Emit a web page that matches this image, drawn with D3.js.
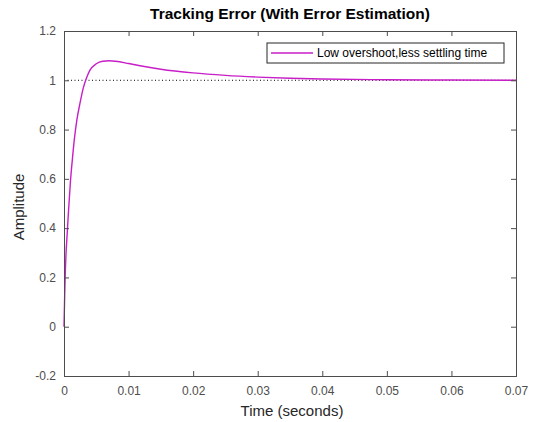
<!DOCTYPE html>
<html><head><meta charset="utf-8">
<script src="https://cdn.jsdelivr.net/npm/d3@7"></script>
<style>body{margin:0;background:#fff}svg{display:block}</style>
</head><body>
<svg id="c" width="543" height="422"></svg>
<script>
const time = [0,0.0001,0.0002,0.0003,0.0005,0.0007,0.001,0.0013,0.0016,0.002,0.0025,0.003,0.0035,0.004,0.005,0.006,0.007,0.008,0.01,0.012,0.015,0.02,0.025,0.03,0.035,0.04,0.05,0.06,0.07];
const amplitude = [0,0.12,0.22,0.29,0.38,0.47,0.59,0.68,0.76,0.84,0.91,0.97,1.01,1.04,1.067,1.077,1.079,1.077,1.068,1.058,1.045,1.03,1.02,1.013,1.008,1.005,1.002,1.001,1.0];
const xTicks = [0,0.01,0.02,0.03,0.04,0.05,0.06,0.07];
const yTicks = [-0.2,0,0.2,0.4,0.6,0.8,1,1.2];
const seriesName = "Low overshoot,less settling time";
const titleText = "Tracking Error (With Error Estimation)";
const xLabel = "Time (seconds)";
const yLabel = "Amplitude";

const svg = d3.select("#c");
const L=64,R=516,T=31,B=376;
const x = d3.scaleLinear().domain([0,0.07]).range([L,R]);
const y = d3.scaleLinear().domain([-0.2,1.2]).range([B,T]);
const font = "'Liberation Sans', Arial, sans-serif";
const axisCol = "#4d4d4d";

// reference line
svg.append("line").attr("x1",L).attr("x2",R).attr("y1",y(1)).attr("y2",y(1))
  .attr("stroke","#000").attr("stroke-width",1).attr("stroke-dasharray","1,2.5");

// curve
const data = time.map((t,i)=>[t,amplitude[i]]);
svg.append("path").datum(data)
  .attr("fill","none").attr("stroke","#c81ec8").attr("stroke-width",1.4)
  .attr("d", d3.line().x(d=>x(d[0])).y(d=>y(d[1])).curve(d3.curveMonotoneX));

// axes
const tl = 5;
const gB = svg.append("g").attr("transform",`translate(0,${B})`)
  .call(d3.axisBottom(x).tickValues(xTicks).tickSize(-tl).tickPadding(8).tickFormat(d=>+d.toFixed(2)));
const gT = svg.append("g").attr("transform",`translate(0,${T})`)
  .call(d3.axisTop(x).tickValues(xTicks).tickSize(-tl).tickFormat(""));
const gL = svg.append("g").attr("transform",`translate(${L},0)`)
  .call(d3.axisLeft(y).tickValues(yTicks).tickSize(-tl).tickPadding(8).tickFormat(d=>+d.toFixed(1)));
const gR = svg.append("g").attr("transform",`translate(${R},0)`)
  .call(d3.axisRight(y).tickValues(yTicks).tickSize(-tl).tickFormat(""));
[gB,gT,gL,gR].forEach(g=>{
  g.select(".domain").attr("stroke",axisCol).attr("stroke-width",1);
  g.selectAll(".tick line").attr("stroke",axisCol);
  g.selectAll(".tick text").attr("fill",axisCol).style("font-family",font).style("font-size","12px");
});
gB.selectAll(".tick text").attr("dy","0.9em");

// legend
const lx=267, ly=43, lw=237, lh=20;
svg.append("rect").attr("x",lx).attr("y",ly).attr("width",lw).attr("height",lh)
  .attr("fill","#fff").attr("stroke","#262626").attr("stroke-width",1);
svg.append("line").attr("x1",lx+4).attr("x2",lx+46).attr("y1",ly+lh/2).attr("y2",ly+lh/2)
  .attr("stroke","#c81ec8").attr("stroke-width",1.4);
svg.append("text").attr("x",lx+50).attr("y",ly+lh/2+4).text(seriesName)
  .style("font-family",font).style("font-size","12px").attr("fill","#000");

// labels
svg.append("text").attr("x",290).attr("y",19).attr("text-anchor","middle").text(titleText)
  .style("font-family",font).style("font-size","15.5px").style("font-weight","bold").attr("fill","#000");
svg.append("text").attr("x",292).attr("y",416).attr("text-anchor","middle").text(xLabel)
  .style("font-family",font).style("font-size","15px").attr("fill","#262626");
svg.append("text").attr("transform",`translate(24,207) rotate(-90)`).attr("text-anchor","middle").text(yLabel)
  .style("font-family",font).style("font-size","15px").attr("fill","#262626");
</script>
</body></html>
